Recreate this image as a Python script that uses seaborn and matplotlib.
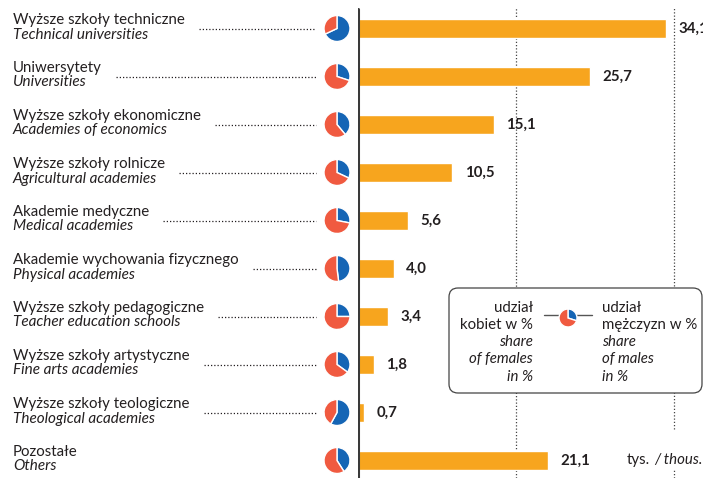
import matplotlib
matplotlib.use("Agg")
import matplotlib.pyplot as plt
import seaborn as sns
from matplotlib.patches import FancyBboxPatch
from matplotlib.lines import Line2D

# data
names_pl = ["Wyższe szkoły techniczne", "Uniwersytety", "Wyższe szkoły ekonomiczne",
            "Wyższe szkoły rolnicze", "Akademie medyczne", "Akademie wychowania fizycznego",
            "Wyższe szkoły pedagogiczne", "Wyższe szkoły artystyczne",
            "Wyższe szkoły teologiczne", "Pozostałe"]
names_en = ["Technical universities", "Universities", "Academies of economics",
            "Agricultural academies", "Medical academies", "Physical academies",
            "Teacher education schools", "Fine arts academies",
            "Theological academies", "Others"]
graduates = [34.1, 25.7, 15.1, 10.5, 5.6, 4.0, 3.4, 1.8, 0.7, 21.1]
females_pct = [32, 70, 61, 68, 72, 52, 75, 65, 42, 59]
legend_females_pct = 70

ORANGE = "#F7A51E"
BLUE = "#1565B5"
RED = "#F05A40"
DARK = "#231F20"

sns.set_style("white")
plt.rcParams["font.family"] = ["Lato", "DejaVu Sans"]

W, H = 703, 478
fig = plt.figure(figsize=(W / 100, H / 100), dpi=100)
px = fig.dpi_scale_trans


def P(x, y):
    return x / 100, (H - y) / 100


x0 = 357.5          # pixel position of zero
scale = 9.04        # pixels per thousand
row0, step = 28.5, 48

ax = fig.add_axes([x0 / W, 0, 1 - x0 / W, 1])
sns.barplot(x=graduates, y=names_pl, orient="h", color=ORANGE, width=0.4,
            saturation=1, ax=ax, zorder=2)
ax.set_xlim(0, (W - x0) / scale)
ax.set_ylim((H - row0) / step, -row0 / step)
ax.axis("off")

# axis line and dotted grid
grid_kw = dict(color="#444444", lw=0.9, ls=(0, (1, 1.6)), zorder=1)
ax.axvline(0, ymin=0, ymax=1 - 9 / H, color="#3a3a3a", lw=2.2, zorder=3)
ax.axvline(17.5, ymin=0, ymax=1 - 8 / H, **grid_kw)
ax.axvline(35, ymin=1 - 429 / H, ymax=1 - 8 / H, **grid_kw)
ax.axvline(35, ymin=0, ymax=1 - 470 / H, **grid_kw)

# value labels
for i, v in enumerate(graduates):
    ax.annotate(f"{v:.1f}".replace(".", ","), xy=(v, i), xytext=(9, 0),
                textcoords="offset points", va="center", ha="left",
                fontsize=10.8, fontweight="bold", color=DARK, zorder=4)

t = fig.text(*P(627, 460), "tys.", transform=px, fontsize=10.8, color=DARK,
             va="center", ha="left")
ax.annotate("/ thous.", xy=(1, 0.5), xycoords=t, xytext=(3, 0),
            textcoords="offset points", va="center", ha="left",
            fontsize=10.8, style="italic", color=DARK)

# category labels, leaders and pies
fig.canvas.draw()
renderer = fig.canvas.get_renderer()
for i in range(len(names_pl)):
    yc = row0 + step * i
    t1 = fig.text(*P(13, yc - 4.5), names_pl[i], transform=px, fontsize=10.8,
                  color=DARK, va="baseline", ha="left")
    t2 = fig.text(*P(13, yc + 10), names_en[i], transform=px, fontsize=11,
                  color=DARK, va="baseline", ha="left", style="italic")
    if i < len(names_pl) - 1:
        end = max(t1.get_window_extent(renderer).x1, t2.get_window_extent(renderer).x1)
        fig.add_artist(Line2D([(end + 14) / 100, 316 / 100], [(H - yc) / 100] * 2,
                              transform=px, color=DARK, lw=0.9, ls=(0, (1, 1.6))))
    r = 13
    pa = fig.add_axes([(337 - r) / W, 1 - (yc + r) / H, 2 * r / W, 2 * r / H])
    f = females_pct[i]
    pa.pie([100 - f, f], colors=[BLUE, RED], startangle=90, counterclock=False)
    pa.set_xlim(-1, 1)
    pa.set_ylim(-1, 1)

# legend box
box = FancyBboxPatch(P(449, 393), 253 / 100, 105 / 100, transform=px,
                     boxstyle="round,pad=0,rounding_size=0.09", facecolor="white",
                     edgecolor="#444444", lw=0.9, zorder=6)
fig.add_artist(box)
fig.add_artist(Line2D([544 / 100, 592 / 100], [(H - 315) / 100] * 2, transform=px,
                      color="#555555", lw=1.0, zorder=7))
lp = fig.add_axes([(568 - 9) / W, 1 - (318 + 9) / H, 18 / W, 18 / H], zorder=8)
lp.pie([100 - legend_females_pct, legend_females_pct], colors=[BLUE, RED],
       startangle=90, counterclock=False)
lp.set_xlim(-1, 1)
lp.set_ylim(-1, 1)

left_lines = [("udział", "normal"), ("kobiet w %", "normal"), ("share", "italic"),
              ("of females", "italic"), ("in %", "italic")]
right_lines = [("udział", "normal"), ("mężczyzn w %", "normal"), ("share", "italic"),
               ("of males", "italic"), ("in %", "italic")]
for k, yy in enumerate([308, 325, 342, 359, 377]):
    fig.text(*P(533, yy), left_lines[k][0], transform=px, fontsize=10.8, color=DARK,
             style=left_lines[k][1], ha="right", va="center", zorder=9)
    fig.text(*P(602, yy), right_lines[k][0], transform=px, fontsize=10.8, color=DARK,
             style=right_lines[k][1], ha="left", va="center", zorder=9)

fig.savefig("out.png", dpi=100)
